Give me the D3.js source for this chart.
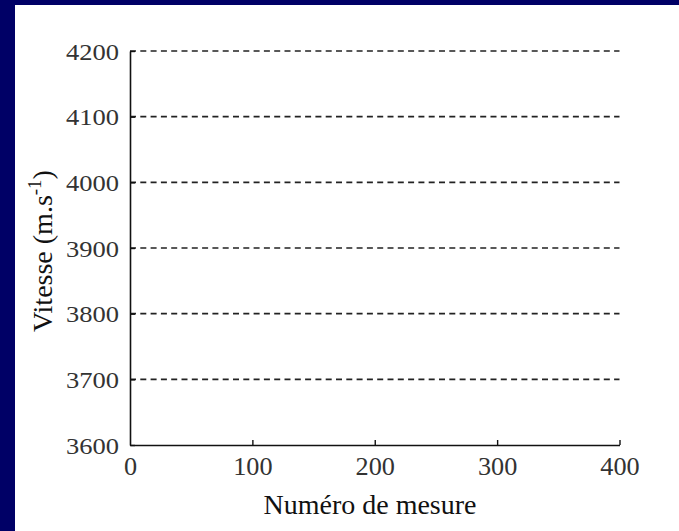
<!DOCTYPE html>
<html>
<head>
<meta charset="utf-8">
<script src="https://cdn.jsdelivr.net/npm/d3@7"></script>
<style>
  html, body { margin: 0; padding: 0; background: #ffffff; overflow: hidden; }
  svg { display: block; }
</style>
</head>
<body>
<script>
const xTicks = [0, 100, 200, 300, 400];
const yTicks = [3600, 3700, 3800, 3900, 4000, 4100, 4200];
const gridValues = [3700, 3800, 3900, 4000, 4100, 4200];
const xDomain = [0, 400];
const yDomain = [3600, 4200];
const xTitle = "Numéro de mesure";
const yTitle = "Vitesse (m.s";
const ySup = "-1";

const W = 679, H = 531;
const svg = d3.select("body").append("svg").attr("width", W).attr("height", H);

// background: navy frame on left and top, white panel
svg.append("rect").attr("width", W).attr("height", H).attr("fill", "#000066");
svg.append("rect").attr("x", 15).attr("y", 5).attr("width", W - 15).attr("height", H - 5).attr("fill", "#ffffff");

const x = d3.scaleLinear().domain(xDomain).range([130, 619.5]);
const y = d3.scaleLinear().domain(yDomain).range([445, 51]);

const fontTick = "'Liberation Serif', 'Times New Roman', serif";

// gridlines
svg.append("g").selectAll("line").data(gridValues).join("line")
  .attr("x1", x(0)).attr("x2", x(400))
  .attr("y1", d => y(d)).attr("y2", d => y(d))
  .attr("stroke", "#222").attr("stroke-width", 1.6)
  .attr("stroke-dasharray", "6,4.3");

// x axis
const xAxis = d3.axisBottom(x).tickValues(xTicks).tickFormat(d3.format("d"))
  .tickSizeInner(-5).tickSizeOuter(0).tickPadding(12);
const gx = svg.append("g").attr("transform", `translate(0,${y(3600)})`).call(xAxis);
gx.select(".domain").attr("stroke", "#111").attr("stroke-width", 1.6);
gx.selectAll(".tick line").attr("stroke", "#111").attr("stroke-width", 1.4);
gx.selectAll(".tick text").attr("font-family", fontTick).attr("font-size", 25).attr("fill", "#333")
  .attr("dy", "0.71em").attr("transform", "scale(1.05,1)");
gx.selectAll(".tick").filter(d => d === 0).select("line").remove();

// y axis
const yAxis = d3.axisLeft(y).tickValues(yTicks).tickFormat(d3.format("d"))
  .tickSizeInner(-5).tickSizeOuter(0).tickPadding(11);
const gy = svg.append("g").attr("transform", `translate(${x(0)},0)`).call(yAxis);
gy.select(".domain").attr("stroke", "#111").attr("stroke-width", 1.6);
gy.selectAll(".tick line").attr("stroke", "#111").attr("stroke-width", 1.4);
gy.selectAll(".tick text").attr("font-family", fontTick).attr("font-size", 24).attr("fill", "#333")
  .attr("textLength", 53).attr("lengthAdjust", "spacingAndGlyphs").attr("dy", "0.34em");

// x title
svg.append("text")
  .attr("x", 370).attr("y", 514)
  .attr("text-anchor", "middle")
  .attr("font-family", fontTick).attr("font-size", 28).attr("fill", "#111")
  .text(xTitle);

// y title
const yt = svg.append("text")
  .attr("transform", `translate(52,251) rotate(-90)`)
  .attr("text-anchor", "middle")
  .attr("font-family", fontTick).attr("font-size", 28).attr("fill", "#111");
yt.append("tspan").text(yTitle);
yt.append("tspan").attr("dy", -11).attr("font-size", 19).text(ySup);
yt.append("tspan").attr("dy", 11).text(")");
</script>
</body>
</html>
